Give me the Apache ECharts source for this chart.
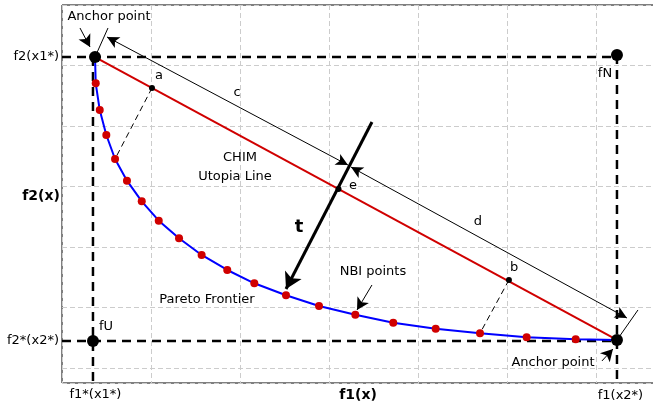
<!DOCTYPE html>
<html><head><meta charset="utf-8">
<script src="https://cdn.jsdelivr.net/npm/echarts@6/dist/echarts.min.js"></script>
<style>html,body{margin:0;padding:0;background:#fff}#c{width:653px;height:407px}</style>
</head><body><div id="c"></div>
<script>
// ---- data (chart units: x to the right, y downward from top border) ----
const anchorPoints = [[0.371, 0.860], [6.236, 5.537]];
const nadirPoint = [6.236, 0.826];   // fN
const utopiaPoint = [0.348, 5.554];  // fU
const chimPoints = [[1.011, 1.372], [3.107, 3.041], [5.022, 4.545]]; // a, e, b
const nbiPoints = [
  [0.379, 1.294], [0.424, 1.736], [0.498, 2.149], [0.596, 2.545], [0.730, 2.904],
  [0.896, 3.245], [1.087, 3.565], [1.315, 3.856], [1.569, 4.132], [1.857, 4.380],
  [2.161, 4.600], [2.517, 4.797], [2.888, 4.975], [3.296, 5.119], [3.722, 5.251],
  [4.199, 5.350], [4.697, 5.426], [5.221, 5.493], [5.772, 5.526]
];
const boundLines = [
  [[0, 0.860], [6.236, 0.860]],
  [[0, 5.554], [6.236, 5.554]],
  [[0.348, 0.860], [0.348, 6.248]],
  [[6.236, 0.826], [6.236, 6.248]]
];
const projectionLines = [
  [[1.011, 1.372], [0.596, 2.545]],
  [[5.022, 4.545], [4.697, 5.426]]
];
const dimensionLines = [
  [[0.506, 0.529], [3.213, 2.645]],  // c
  [[3.247, 2.678], [6.348, 5.174]]   // d
];
const extensionLines = [
  [[0.371, 0.860], [0.517, 0.380]],
  [[6.236, 5.537], [6.472, 5.041]]
];
const normalArrow = [[3.483, 1.934], [2.517, 4.694]]; // t
const pointerArrows = [
  [[0.202, 0.380], [0.315, 0.694]],
  [[6.067, 5.884], [6.191, 5.686]],
  [[3.483, 4.628], [3.315, 5.041]]
];
const textLabels = [
  ['Anchor point', 0.528, 0.198],
  ['a', 1.090, 1.174],
  ['c', 1.966, 1.455],
  ['fN', 6.101, 1.140],
  ['CHIM', 2.000, 2.529],
  ['Utopia Line', 1.944, 2.843],
  ['e', 3.270, 2.992],
  ['d', 4.674, 3.587],
  ['b', 5.079, 4.347],
  ['NBI points', 3.494, 4.413],
  ['Pareto Frontier', 1.629, 4.876],
  ['fU', 0.494, 5.322],
  ['Anchor point', 5.517, 5.917],
  ['f1*(x1*)', 0.376, 6.446],
  ['f1(x2*)', 6.275, 6.463]
];
const boldLabels = [
  ['f2(x)', -0.236, 3.157, 14],
  ['t', 2.663, 3.669, 18],
  ['f1(x)', 3.326, 6.446, 14]
];
const leftLabels = [
  ['f2(x1*)', -0.034, 0.860],
  ['f2*(x2*)', -0.034, 5.554]
];

const FONT = 'DejaVu Sans';
const chart = echarts.init(document.getElementById('c'), null, {renderer: 'canvas'});

function lineSeries(pts, style, z) {
  return {type: 'line', data: pts, symbol: 'none', silent: true, z: z,
          lineStyle: style, animation: false};
}
function markLines(segs, style, symbols, size, z) {
  return {type: 'line', data: [], silent: true, z: z, animation: false,
    markLine: {silent: true, animation: false, symbol: symbols, symbolSize: size,
      label: {show: false}, lineStyle: style, emphasis: {disabled: true},
      data: segs.map(s => [{coord: s[0]}, {coord: s[1]}])}};
}
function textStyle(extra) {
  return Object.assign({show: true, color: '#000', fontFamily: FONT, fontSize: 13,
    textBorderWidth: 0, textShadowBlur: 0, opacity: 1}, extra);
}

const series = [];
boundLines.forEach(l => series.push(lineSeries(l, {color: '#000', width: 2.5, type: [9, 6]}, 2)));
projectionLines.forEach(l => series.push(lineSeries(l, {color: '#000', width: 1, type: [6, 4]}, 3)));
series.push(lineSeries([anchorPoints[0], ...nbiPoints, anchorPoints[1]], {color: '#0000ff', width: 2}, 4));
series.push(lineSeries(anchorPoints, {color: '#d00000', width: 2}, 5));
series.push(markLines(dimensionLines, {color: '#000', width: 1, type: 'solid', opacity: 1}, ['arrow', 'arrow'], [9, 12], 6));
series.push(markLines(extensionLines, {color: '#000', width: 1, type: 'solid', opacity: 1}, ['none', 'none'], 1, 6));
series.push(markLines(pointerArrows, {color: '#000', width: 1, type: 'solid', opacity: 1}, ['none', 'arrow'], [10, 12], 6));
series.push(markLines([normalArrow], {color: '#000', width: 3, type: 'solid', opacity: 1}, ['none', 'arrow'], [14, 16], 7));
series.push({type: 'scatter', data: nbiPoints, symbolSize: 8, itemStyle: {color: '#d00000', opacity: 1}, z: 8, silent: true, animation: false});
series.push({type: 'scatter', data: [...anchorPoints, nadirPoint, utopiaPoint], symbolSize: 12, itemStyle: {color: '#000', opacity: 1}, z: 9, silent: true, animation: false});
series.push({type: 'scatter', data: chimPoints, symbolSize: 6, itemStyle: {color: '#000', opacity: 1}, z: 9, silent: true, animation: false});
series.push({type: 'scatter', symbolSize: 0, clip: false, silent: true, animation: false, z: 10,
  data: textLabels.map(t => ({value: [t[1], t[2]], label: textStyle({position: 'inside', formatter: t[0]})}))});
series.push({type: 'scatter', symbolSize: 0, clip: false, silent: true, animation: false, z: 10,
  data: boldLabels.map(t => ({value: [t[1], t[2]], label: textStyle({position: 'inside', formatter: t[0], fontWeight: 'bold', fontSize: t[3]})}))});
series.push({type: 'scatter', symbolSize: 0, clip: false, silent: true, animation: false, z: 10,
  data: leftLabels.map(t => ({value: [t[1], t[2]], label: textStyle({position: 'left', distance: 0, formatter: t[0]})}))});

chart.setOption({
  animation: false,
  backgroundColor: '#fff',
  grid: {left: 62, top: 5, width: 600, height: 378, show: true, borderColor: '#000', borderWidth: 1,
    containLabel: false, outerBoundsMode: 'none'},
  xAxis: {type: 'value', min: 0, max: 6.742, interval: 1,
    axisLine: {show: false}, axisTick: {show: false}, axisLabel: {show: false},
    splitLine: {show: true, lineStyle: {color: '#cccccc', width: 1, type: [5, 3]}}},
  yAxis: {type: 'value', inverse: true, min: 0, max: 6.248, interval: 1,
    axisLine: {show: false}, axisTick: {show: false}, axisLabel: {show: false},
    splitLine: {show: true, lineStyle: {color: '#cccccc', width: 1, type: [5, 3]}}},
  series: series
});
</script></body></html>
